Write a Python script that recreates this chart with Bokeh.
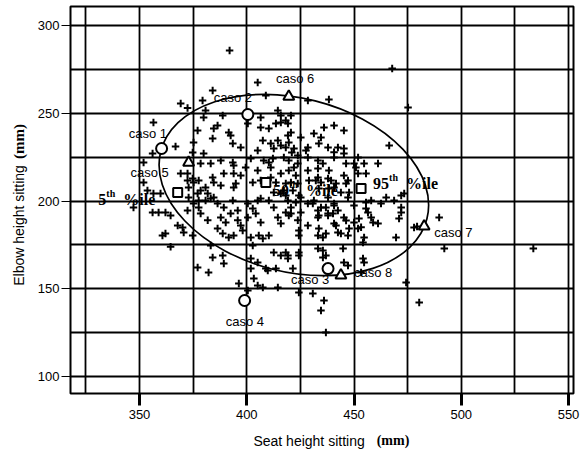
from math import pi
from bokeh.plotting import figure
from bokeh.layouts import row, column
from bokeh.models import FixedTicker, Range1d, ColumnDataSource
from bokeh.core.properties import value
from bokeh.embed import file_html
from bokeh.resources import INLINE

# ---------------- data ----------------
seat = [392, 467.8, 475.2, 405.1, 384.1, 438.3, 369.2, 356.5, 379.4, 428.5, 408.9, 380.8, 388.8, 379.9,
        414.5, 415.9, 420.6, 415.9, 413.6, 406.5, 406.5, 410.3, 384.6, 392.5, 384.1, 419.2, 420.6, 425.2,
        436, 440.7, 431.3, 434.6, 445.3, 393.5, 397.2, 407.5, 411.2, 412.6, 415.9, 418.2, 422, 423.8,
        428.5, 433.6, 437.9, 442.5, 445.3, 379.9, 375.2, 387.9, 378.5, 383.2, 393.9, 401.9, 407.9, 410.3,
        417.3, 419.6, 423.8, 428.5, 433.2, 435.5, 440.7, 445.3, 446.3, 451.9, 454.7, 461.2, 466.4,
        386.4, 377.1, 391.6, 366.8, 374.8, 400.5, 405.1, 414.5, 412.2, 419.2, 351.9, 393.5, 374.8, 372.9,
        356.1, 351.9, 347.2, 356.5, 356.1, 358.9, 362.1, 372.4, 370.1,
        360.7, 364.5, 367.8, 370.6, 374.8, 377.1,
        369.2, 372.4, 375.2, 377.1, 380.8, 381.8, 384.1, 384.6, 389.3, 393.9, 394.9, 399.5, 405.1, 406.5,
        411.2, 411.2, 413.6, 415.9, 418.2, 422, 422.9, 423.8, 428.5, 429, 433.2, 434.6, 439.3, 440.7,
        445.3, 446.3, 450, 451.9, 455.6,
        372.9, 375.2, 377.6, 380.8, 384.6, 386.4, 389.3, 393.5, 400.5, 402.8, 405.1, 410.3, 412.6, 415.9,
        419.2, 420.6, 425.2, 428.5, 431.3, 434.6, 437.9, 440.7, 442.5, 447.2, 450, 458, 462.6, 468.7,
        372.4, 378.5, 381.8, 387.9, 392.5, 395.8, 400.5, 404.2, 406.5, 414.5, 415.9, 420.6, 423.8, 433.2,
        437.9, 440.7, 445.3, 450, 458, 461.2,
        353.7, 359.8, 364.5, 362.1, 377.6, 378.5, 377.6, 383.2, 387.9, 393.9,
        386.4, 388.8, 390.2, 391.6, 393.9, 395.8, 397.2, 398.1, 383.2, 382.2, 384.1, 388.8, 389.3,
        401.9, 405.6, 407.5, 410.3, 402.8, 401.9, 405.1, 408.9, 412.6, 415.9, 419.2, 397.2, 402.8, 412.6,
        417.3, 406.5,
        420.6, 421.5, 418.2, 424.3, 422.9, 432.2, 433.6, 437.9, 438.3, 441.6, 443.9, 447.2, 447.7, 465,
        472, 473.4, 419.6, 418.2, 425.2, 430.8, 433.2, 433.6, 436.9, 437.9, 440.2, 440.7,
        428.5, 424.3, 424.3, 433.6, 433.2, 435.5, 436.9, 441.6, 442.5, 443.9, 446.3, 447.7, 447.2, 452.3,
        453.3, 451.9, 455.6, 455.6, 456.5, 458.9, 454.7, 454.2, 472, 472, 471, 469.6, 479.4,
        433.2, 435.5, 436.9, 435.5, 444.9, 445.3, 447.2, 454.2, 454.7, 453.3, 418.2, 419.2, 424.3, 424.3,
        421.5,
        396.3, 400.5, 401.9, 403.3, 405.1, 407.5, 409.8, 413.6, 414.5, 424.3, 430.8, 436, 434.6, 436.9,
        474.3, 480.4,
        489.7, 492.1, 533.6, 478, 372.4,
        418.2, 419.6, 427.6, 440.7, 421, 419.6, 433.2, 438.3, 450.9]

elbow = [285.8, 275.5, 253.3, 267.5, 263, 257.8, 255.6, 244.7, 257.3, 257.3, 260.1, 251.6, 248.7, 247.6,
         251.6, 248.7, 248.7, 244.7, 244.2, 247.6, 241.9, 241.3, 241.3, 237.3, 235.6, 237.3, 239, 236.2,
         241.9, 243, 238.5, 236.2, 240.2, 232.8, 230.5, 234.5, 232.8, 229.9, 231.6, 230.5, 229.9, 225.9,
         230.5, 232.8, 230.5, 230.5, 229.9, 227.1, 233.3, 223.1, 221.4, 221.4, 220.2, 224.2, 223.1, 221.9,
         224.8, 223.1, 221.4, 224.8, 223.1, 221.4, 224.8, 227.1, 221.4, 224.8, 221.4, 221.4, 231.6,
         243, 240.2, 239, 231.1, 227.6, 244.2, 228.8, 234.5, 224.2, 244.2, 221.9, 221.9, 212.8, 207.7,
         227.1, 210.5, 196.3, 204.3, 193.4, 193.4, 193.4, 215.7, 184.9,
         180.3, 174, 186, 182, 180.3, 162.1,
         215.7, 211.7, 210.5, 204.3, 207.7, 204.3, 213.4, 210.5, 215.7, 215.7, 210, 219.1, 217.4, 211.7,
         219.1, 213.4, 210.5, 215.7, 210, 219.1, 214.5, 210, 217.4, 211.7, 213.4, 210.5, 211.7, 207.7,
         214.5, 210, 221.4, 215.7, 215.7,
         202, 198.6, 200.3, 200.3, 202, 198.6, 196.3, 200.3, 198.6, 195.7, 200.3, 200.3, 196.3, 204.3,
         200.3, 196.3, 202, 198.6, 200.3, 196.3, 202, 198.6, 194.6, 202, 197.4, 200.3, 198.6, 200.3,
         194.6, 192.9, 189, 190.6, 192.9, 189, 190.6, 192.9, 187.7, 190.6, 187.2, 192.9, 189, 190.6,
         192.9, 187.2, 190.6, 187.7, 190.6, 187.2,
         206, 204.3, 191.7, 181.5, 211.7, 206, 196.3, 201.4, 208.8, 207.7,
         184.3, 181.5, 187.7, 179.2, 180.3, 194.6, 186, 183.2, 174.6, 159.3, 167.8, 169, 164.4,
         179.2, 180.3, 178.6, 180.3, 174.6, 167.2, 165, 161.5, 170.7, 169, 169, 214.5, 210.5, 204.8,
         206, 201.4,
         210.5, 206, 203.1, 203.1, 199.1, 211.7, 207.1, 212.8, 207.1, 210, 204.8, 211.7, 204.8, 202,
         203.1, 204.3, 191.7, 193.4, 193.4, 198.6, 194.6, 191.7, 196.3, 191.7, 192.9, 197.4,
         186, 183.2, 180.3, 184.3, 180.3, 179.2, 181.5, 186, 182.1, 181.5, 188.9, 184.3, 180.3, 190,
         185, 184.3, 199.1, 195.7, 193.4, 187.7, 179.2, 176.4, 196.3, 193.4, 190, 179.2, 185.5,
         172.9, 171.8, 169, 167.8, 173, 165, 163.2, 167.2, 165, 159.3, 170.7, 167.2, 170.7, 169,
         161.5,
         153, 149, 161.5, 155.8, 151.9, 150.7, 160.4, 161.5, 150.7, 147.9, 147.3, 143.3, 137.6, 125.1,
         153.6, 142.2,
         190.6, 173, 173, 184.9, 253,
         245.9, 233.3, 228.8, 227.8, 227.6, 217.4, 218.5, 217.4, 219.1]

case_labels = ["caso 1", "caso 2", "caso 3", "caso 4", "caso 5", "caso 6", "caso 7", "caso 8"]
case_seat = [360.3, 400.5, 437.9, 399.0, 372.9, 419.6, 482.7, 443.9]
case_elbow = [229.9, 249.3, 161.5, 143.3, 221.9, 259.5, 185.5, 157.6]
case_marker = ["circle", "circle", "circle", "circle", "triangle", "triangle", "triangle", "triangle"]
case_label_seat = [345.0, 384.6, 420.6, 390.2, 345.8, 413.6, 487.4, 450.0]
case_label_elbow = [238.5, 258.7, 155.3, 131.3, 216.0, 270.0, 182.0, 159.5]

pct_names = ["5", "50", "95"]
pct_seat = [367.8, 408.9, 453.3]
pct_elbow = [204.8, 210.5, 207.1]
pct_label_seat = [330.8, 412.2, 458.9]
pct_label_elbow = [200.9, 206.0, 210.0]

# 5th-95th percentile ellipse (centre, axes, tilt)
ell_seat, ell_elbow = 421.96, 209.1
ell_width, ell_height, ell_angle = 128.0, 99.0, -0.248

x_ticks = [350, 400, 450, 500, 550]
y_ticks = [100, 150, 200, 250, 300]
grid_step = 25

x_title = ["Seat height  sitting", "(mm)"]
y_title = ["Elbow height sitting", "(mm)"]

# ---------------- main figure ----------------
p = figure(width=551, height=426, output_backend="svg", toolbar_location=None,
           x_range=Range1d(317.83, 552.33), y_range=Range1d(90.31, 310.83),
           min_border_left=40, min_border_right=8, min_border_top=6, min_border_bottom=33,
           background_fill_color="white", border_fill_color="white")

p.outline_line_color = "black"
p.outline_line_width = 2

p.xaxis.ticker = FixedTicker(ticks=x_ticks)
p.yaxis.ticker = FixedTicker(ticks=y_ticks)
p.xgrid.ticker = FixedTicker(ticks=list(range(325, 551, grid_step)))
p.ygrid.ticker = FixedTicker(ticks=list(range(100, 301, grid_step)))
for g in (p.xgrid, p.ygrid):
    g.grid_line_color = "black"
    g.grid_line_width = 1.8
    g.grid_line_alpha = 1.0

for ax in (p.xaxis, p.yaxis):
    ax.axis_line_color = None
    ax.minor_tick_line_color = None
    ax.major_tick_in = 0
    ax.major_tick_line_color = "black"
    ax.major_label_text_font = "Liberation Sans"
    ax.major_label_text_font_size = "13px"
    ax.major_label_text_color = "black"
p.xaxis.major_tick_out = 12
p.xaxis.major_tick_line_width = 3
p.xaxis.major_label_standoff = 4
p.yaxis.major_tick_out = 9
p.yaxis.major_tick_line_width = 1.2
p.yaxis.major_label_standoff = 2

# ellipse
p.ellipse(x=[ell_seat], y=[ell_elbow], width=[ell_width], height=[ell_height], angle=[ell_angle],
          fill_color=None, line_color="black", line_width=1.7)

# population points
p.scatter(seat, elbow, marker="cross", size=7.5, line_color="black", line_width=2)

# cases
cs = ColumnDataSource(dict(x=case_seat, y=case_elbow, m=case_marker,
                           lx=case_label_seat, ly=case_label_elbow, t=case_labels))
p.scatter("x", "y", marker="m", source=cs, size=11, fill_color="white",
          line_color="black", line_width=2)
p.text("lx", "ly", text="t", source=cs, text_font=value("Liberation Sans"),
       text_font_size="13px", text_color="black", text_align="left", text_baseline="middle")

# percentile squares and labels
num_w = [8 * len(n) for n in pct_names]
ps = ColumnDataSource(dict(x=pct_seat, y=pct_elbow, lx=pct_label_seat, ly=pct_label_elbow,
                           n=pct_names, th=["th"] * 3, ile=["%ile"] * 3,
                           o1=num_w, o2=[w + 17 for w in num_w]))
p.scatter("x", "y", marker="square", source=ps, size=9, fill_color="white",
          line_color="black", line_width=2)
common = dict(source=ps, text_font=value("Liberation Serif"), text_font_style="bold",
              text_color="black", text_align="left", text_baseline="alphabetic")
p.text("lx", "ly", text="n", text_font_size="16px", **common)
p.text("lx", "ly", text="th", text_font_size="10px", x_offset="o1", y_offset=-6, **common)
p.text("lx", "ly", text="ile", text_font_size="16px", x_offset="o2", **common)


# ---------------- axis-title strips (page-pixel coordinates) ----------------
def strip(w, h, xr, yr, **borders):
    f = figure(width=w, height=h, x_range=xr, y_range=yr, output_backend="svg",
               toolbar_location=None, x_axis_location=None, y_axis_location=None,
               min_border=0, outline_line_color=None,
               background_fill_color="white", border_fill_color="white", **borders)
    f.grid.visible = False
    return f


sans = dict(text_font=value("Liberation Sans"), text_font_size="14px", text_color="black",
            text_align="center", text_baseline="middle")
serif = dict(text_font=value("Liberation Serif"), text_font_style="bold",
             text_color="black", text_align="center", text_baseline="middle")

left = strip(30, 452, Range1d(0, 30), Range1d(452, 0))
left.text(x=[18], y=[225], text=[y_title[0]], angle=pi / 2, **sans)
left.text(x=[18], y=[141], text=[y_title[1]], angle=pi / 2, text_font_size="15px", **serif)

# the strip's frame lines up with the main frame (page x 70..573)
bottom = strip(551, 26, Range1d(70, 573), Range1d(452, 426),
               min_border_left=40, min_border_right=8)
bottom.text(x=[310.5], y=[440], text=[x_title[0]], **sans)
bottom.text(x=[392.5], y=[440], text=[x_title[1]], text_font_size="14px", **serif)

layout = row(left, column(p, bottom))

open("out.html", "w").write(file_html(layout, INLINE))
